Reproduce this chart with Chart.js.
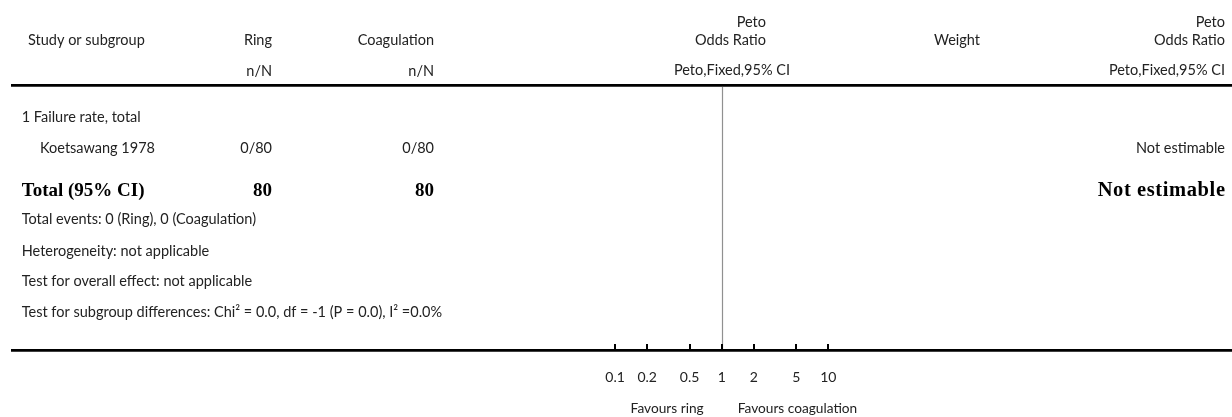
<!DOCTYPE html>
<html>
<head>
<meta charset="utf-8">
<script src="https://cdn.jsdelivr.net/npm/chart.js@4.4.0/dist/chart.umd.min.js"></script>
<style>
html,body{margin:0;padding:0;background:#fff;}
#wrap{width:1232px;height:417px;position:relative;}
canvas{display:block;}
</style>
</head>
<body>
<div id="wrap"><canvas id="c" width="1232" height="417"></canvas></div>
<script>
// ---- data ----
const groupTitle = '1 Failure rate, total';
const studies = ['Koetsawang 1978'];
const ringEvents = [0];
const ringTotals = [80];
const coagEvents = [0];
const coagTotals = [80];
const studyOR = [null];          // not estimable
const studyLabels = ['Not estimable'];
const totalLabel = 'Total (95% CI)';
const totalResult = 'Not estimable';
const footLines = [
  'Total events: 0 (Ring), 0 (Coagulation)',
  'Heterogeneity: not applicable',
  'Test for overall effect: not applicable',
  'Test for subgroup differences: Chi\u00B2 = 0.0, df = -1 (P = 0.0), I\u00B2 =0.0%'
];
const tickValues = [0.1, 0.2, 0.5, 1, 2, 5, 10];
const tickLabels = ['0.1', '0.2', '0.5', '1', '2', '5', '10'];
const favoursLeft = 'Favours ring';
const favoursRight = 'Favours coagulation';

// ---- styling ----
const SANS = 'Lato, "Open Sans", sans-serif';
const SERIF = '"Liberation Serif", "DejaVu Serif", serif';
const TXT = '#222';
const fs = 14.5;

const tablePlugin = {
  id: 'forestTable',
  afterDraw(chart) {
    const ctx = chart.ctx;
    const xs = chart.scales.x;
    const W = chart.width;
    ctx.save();
    const text = (s, x, y, align, font, color, spacing) => {
      ctx.font = font; ctx.fillStyle = color || TXT;
      ctx.textAlign = align; ctx.textBaseline = 'alphabetic';
      if ('letterSpacing' in ctx) ctx.letterSpacing = (spacing || 0) + 'px';
      ctx.fillText(s, x, y);
      if ('letterSpacing' in ctx) ctx.letterSpacing = '0px';
    };
    const reg = fs + 'px ' + SANS;
    const bold = 'bold 19px ' + SERIF;
    const colRing = 272, colCoag = 434, colRes = 1225;

    // headers
    text('Study or subgroup', 28, 44.5, 'left', reg);
    text('Ring', colRing, 44.5, 'right', reg);
    text('Coagulation', colCoag, 44.5, 'right', reg);
    text('n/N', colRing, 75.5, 'right', reg);
    text('n/N', colCoag, 75.5, 'right', reg);
    text('Peto', 766, 26.5, 'right', reg);
    text('Odds Ratio', 766, 44.5, 'right', reg);
    text('Peto,Fixed,95% CI', 790, 75, 'right', reg);
    text('Weight', 980, 44.5, 'right', reg);
    text('Peto', colRes, 26.5, 'right', reg);
    text('Odds Ratio', colRes, 44.5, 'right', reg);
    text('Peto,Fixed,95% CI', colRes, 75, 'right', reg);

    // rules
    ctx.strokeStyle = '#000';
    ctx.lineWidth = 2.7;
    ctx.beginPath(); ctx.moveTo(11, 85.4); ctx.lineTo(W, 85.4); ctx.stroke();
    ctx.beginPath(); ctx.moveTo(11, 350.3); ctx.lineTo(W, 350.3); ctx.stroke();

    // line of no effect
    const x1 = Math.round(xs.getPixelForValue(1)) + 0.5;
    ctx.strokeStyle = '#909090';
    ctx.lineWidth = 1.2;
    ctx.beginPath(); ctx.moveTo(x1, 87); ctx.lineTo(x1, 349); ctx.stroke();

    // tick marks (upward)
    ctx.strokeStyle = '#000';
    ctx.lineWidth = 2;
    tickValues.forEach(v => {
      const px = Math.round(xs.getPixelForValue(v));
      ctx.beginPath(); ctx.moveTo(px, 344); ctx.lineTo(px, 350); ctx.stroke();
    });

    // body
    text(groupTitle, 21.7, 121.5, 'left', reg);
    studies.forEach((s, i) => {
      const y = 153;
      text(s, 40, y, 'left', reg);
      text(ringEvents[i] + '/' + ringTotals[i], colRing, y, 'right', reg);
      text(coagEvents[i] + '/' + coagTotals[i], colCoag, y, 'right', reg);
      text(studyLabels[i], colRes, y, 'right', reg);
    });
    const sumR = ringTotals.reduce((a, b) => a + b, 0);
    const sumC = coagTotals.reduce((a, b) => a + b, 0);
    text(totalLabel, 21.7, 196, 'left', bold, '#000');
    text(String(sumR), colRing, 196, 'right', bold, '#000');
    text(String(sumC), colCoag, 196, 'right', bold, '#000');
    text(totalResult, colRes + 0.6, 196, 'right', 'bold 20.5px ' + SERIF, '#000', 0.6);
    const footY = [224, 255.8, 286.3, 316.5];
    footLines.forEach((s, i) => text(s, 21.7, footY[i], 'left', reg));

    // favours labels
    const fx = xs.getPixelForValue(1);
    text(favoursLeft, fx - 18, 412.5, 'right', '13.7px ' + SANS);
    text(favoursRight, fx + 16, 412.5, 'left', '13.7px ' + SANS);
    ctx.restore();
  }
};

new Chart(document.getElementById('c'), {
  type: 'scatter',
  data: {
    labels: studies,
    datasets: [{
      label: 'Peto OR',
      data: studies.map((s, i) => ({ x: studyOR[i], y: i })),
      pointRadius: 0,
      showLine: false
    }]
  },
  options: {
    responsive: false,
    animation: false,
    events: [],
    layout: { padding: { left: 508.5, right: 297.1, top: 87, bottom: 0 } },
    plugins: { legend: { display: false }, tooltip: { enabled: false }, title: { display: false } },
    scales: {
      x: {
        type: 'logarithmic',
        min: 0.01,
        max: 100,
        position: 'bottom',
        border: { display: false },
        grid: { display: false, drawTicks: false },
        afterBuildTicks: (scale) => { scale.ticks = tickValues.map(v => ({ value: v })); },
        afterFit: (scale) => { scale.height = 67; },
        ticks: {
          autoSkip: false,
          maxRotation: 0,
          padding: 19,
          color: TXT,
          font: { family: 'Lato', size: 14 },
          callback: (v, i) => tickLabels[i]
        }
      },
      y: { display: false, min: -1, max: 6 }
    }
  },
  plugins: [tablePlugin]
});
</script>
</body>
</html>
